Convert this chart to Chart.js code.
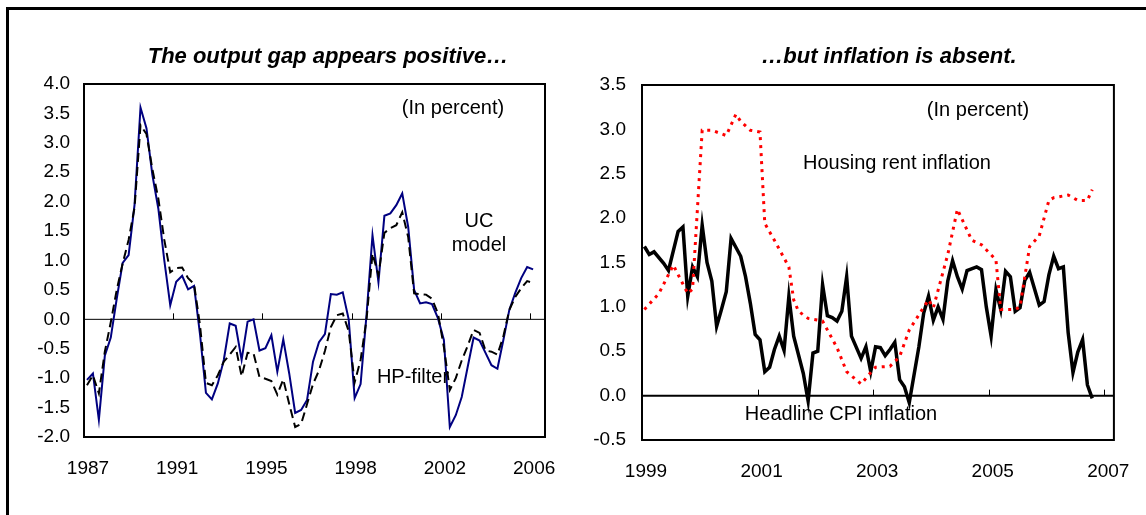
<!DOCTYPE html>
<html>
<head>
<meta charset="utf-8">
<script src="https://cdn.jsdelivr.net/npm/chart.js@4.4.1/dist/chart.umd.min.js"></script>
<style>
  body { margin: 0; background: #fff; }
  #wrap { position: relative; width: 1146px; height: 515px; overflow: hidden; }
  #frame { position: absolute; left: 6px; top: 7px; width: 1300px; height: 700px; border-top: 3px solid #000; border-left: 3px solid #000; }
  canvas { position: absolute; top: 0; }
</style>
</head>
<body>
<div id="wrap">
  <div id="frame"></div>
  <canvas id="gapChart" width="573" height="515" style="left:0"></canvas>
  <canvas id="inflChart" width="573" height="515" style="left:573px"></canvas>
</div>
<script>
// left panel: quarterly output gap, 1987Q1 onwards
const gapYears = ['1987', '1991', '1995', '1998', '2002', '2006'];
const ucModel = [
  -1.03, -0.92, -1.71, -0.62, -0.31, 0.35, 0.96, 1.09, 1.95, 3.6,
  3.25, 2.45, 1.88, 1.0, 0.24, 0.64, 0.74, 0.51, 0.57, -0.25,
  -1.25, -1.36, -1.09, -0.69, -0.07, -0.11, -0.69, -0.04, 0.0, -0.53,
  -0.49, -0.27, -0.89, -0.34, -0.92, -1.59, -1.54, -1.37, -0.72, -0.39,
  -0.25, 0.43, 0.42, 0.46, 0.0, -1.34, -1.10, 0.08, 1.43, 0.63,
  1.76, 1.80, 1.94, 2.14, 1.57, 0.5, 0.27, 0.29, 0.26, 0.02,
  -0.35, -1.83, -1.63, -1.32, -0.81, -0.31, -0.36, -0.57, -0.78, -0.84,
  -0.35, 0.16, 0.45, 0.70, 0.89, 0.85
];
const hpFilter = [
  -1.12, -0.95, -1.26, -0.55, -0.05, 0.5, 0.95, 1.35, 1.9, 3.3,
  3.15, 2.55, 2.05, 1.35, 0.8, 0.87, 0.88, 0.7, 0.6, -0.1,
  -1.08, -1.12, -0.95, -0.72, -0.6, -0.47, -0.97, -0.57, -0.58, -0.98,
  -1.01, -1.05, -1.28, -1.02, -1.44, -1.83, -1.78, -1.44, -1.1, -0.87,
  -0.54, -0.13, 0.07, 0.10, -0.2, -1.07, -0.69, 0.0, 1.12, 0.75,
  1.47, 1.55, 1.6, 1.82, 1.4, 0.44, 0.43, 0.42, 0.35, 0.1,
  -0.47, -1.2, -1.0, -0.7, -0.45, -0.18, -0.23, -0.53, -0.55, -0.6,
  -0.29, 0.16, 0.38, 0.53, 0.65, 0.62
];

// right panel: monthly, month 0 = Jan 1999
const inflYears = ['1999', '2001', '2003', '2005', '2007'];
const cpiMonth = [
  0, 1, 2, 4, 5, 7, 8, 9, 10, 11, 12, 13, 14, 15, 16, 17, 18, 20, 21, 22,
  23, 24, 25, 26, 27, 28, 29, 30, 31, 33, 34, 35, 36, 37, 38, 39, 40, 41, 42, 43,
  45, 46, 47, 48, 49, 50, 51, 52, 53, 54, 55, 57, 58, 59, 60, 61, 62, 63, 64, 65,
  66, 67, 69, 70, 71, 72, 73, 74, 75, 76, 77, 78, 79, 80, 82, 83, 84, 85, 86, 87,
  88, 89, 90, 91, 92, 93
];
const cpiInflation = [
  1.68, 1.59, 1.62, 1.49, 1.41, 1.85, 1.90, 1.12, 1.45, 1.34, 1.92, 1.50, 1.29, 0.78, 0.97, 1.17, 1.77, 1.57, 1.34, 1.04,
  0.69, 0.63, 0.27, 0.32, 0.52, 0.67, 0.51, 1.12, 0.67, 0.25, -0.06, 0.48, 0.50, 1.25, 0.90, 0.88, 0.84, 0.95, 1.34, 0.67,
  0.42, 0.55, 0.27, 0.55, 0.54, 0.45, 0.52, 0.60, 0.18, 0.10, -0.08, 0.55, 0.93, 1.12, 0.85, 1.00, 0.86, 1.29, 1.52, 1.34,
  1.20, 1.41, 1.45, 1.42, 1.00, 0.67, 1.19, 0.97, 1.40, 1.34, 0.95, 0.99, 1.30, 1.39, 1.02, 1.06, 1.36, 1.57, 1.43, 1.45,
  0.71, 0.26, 0.49, 0.63, 0.12, -0.03
];
const rentMonth = [
  0, 3, 6, 9, 10, 12, 14, 17, 19, 20, 22, 24, 25, 27, 30, 31, 32, 34, 37, 40,
  42, 45, 47, 48, 51, 53, 55, 59, 60, 63, 65, 68, 70, 73, 74, 77, 78, 80, 82, 84,
  85, 88, 90, 92, 93
];
const rentInflation = [
  0.97, 1.15, 1.47, 1.15, 1.2, 2.99, 2.99, 2.93, 3.17, 3.09, 2.99, 2.97, 1.94, 1.75, 1.45, 1.08, 0.95, 0.87, 0.84, 0.54,
  0.27, 0.13, 0.26, 0.32, 0.33, 0.44, 0.74, 1.08, 0.99, 1.59, 2.10, 1.75, 1.70, 1.53, 0.97, 0.97, 1.0, 1.68, 1.80, 2.20,
  2.23, 2.26, 2.20, 2.20, 2.32
];

Chart.defaults.font.family = '"Liberation Sans", Arial, sans-serif';
Chart.defaults.color = '#000';

const decor = {
  id: 'decor',
  beforeDatasetsDraw(chart, args, o) {
    const { ctx, chartArea: a, scales: { x, y } } = chart;
    const y0 = y.getPixelForValue(0);
    ctx.save();
    ctx.strokeStyle = '#000';
    ctx.lineWidth = o.zeroWidth;
    ctx.beginPath();
    ctx.moveTo(a.left, y0);
    ctx.lineTo(a.right, y0);
    ctx.stroke();
    ctx.lineWidth = 1;
    x.ticks.forEach((t) => {
      const px = Math.round(x.getPixelForValue(t.value)) + 0.5;
      ctx.beginPath();
      ctx.moveTo(px, y0);
      ctx.lineTo(px, y0 - o.tickLen);
      ctx.stroke();
    });
    ctx.restore();
  },
  afterDatasetsDraw(chart, args, o) {
    const { ctx, chartArea: a } = chart;
    ctx.save();
    ctx.strokeStyle = '#000';
    ctx.lineWidth = 2;
    ctx.strokeRect(a.left, a.top, a.right - a.left, a.bottom - a.top);
    ctx.fillStyle = '#000';
    ctx.textAlign = 'center';
    ctx.textBaseline = 'middle';
    o.texts.forEach((t) => {
      ctx.font = t.font;
      ctx.fillText(t.text, t.x, t.y);
    });
    ctx.restore();
  },
};

const makeOptions = (cfg) => ({
  responsive: false,
  animation: false,
  layout: { padding: { left: 0, top: cfg.top, right: cfg.right, bottom: 0 } },
  elements: { point: { radius: 0 }, line: { tension: 0 } },
  scales: {
    x: {
      type: 'linear',
      min: cfg.xMin,
      max: cfg.xMax,
      grid: { display: false, drawTicks: false },
      border: { display: false },
      afterBuildTicks: (scale) => {
        scale.ticks = cfg.tickPos.map((v) => ({ value: v }));
      },
      afterFit: (scale) => { scale.height = cfg.xHeight; },
      ticks: {
        padding: 20,
        labelOffset: 4,
        maxRotation: 0,
        autoSkip: false,
        font: { size: 19 },
        callback: (value) => cfg.tickLabels[cfg.tickPos.indexOf(value)],
      },
    },
    y: {
      min: cfg.yMin,
      max: cfg.yMax,
      grid: { display: false, drawTicks: false },
      border: { display: false },
      afterFit: (scale) => { scale.width = cfg.yWidth; },
      ticks: {
        stepSize: 0.5,
        padding: cfg.yPad,
        font: { size: 19 },
        callback: (value) => value.toFixed(1),
      },
    },
  },
  plugins: {
    legend: { display: false },
    tooltip: { enabled: false },
    decor: { zeroWidth: cfg.zeroWidth, tickLen: 6, texts: cfg.texts },
  },
});

const titleFont = 'italic bold 22px "Liberation Sans", Arial, sans-serif';
const noteFont = '20px "Liberation Sans", Arial, sans-serif';

new Chart(document.getElementById('gapChart'), {
  type: 'line',
  data: {
    datasets: [
      {
        label: 'HP-filter',
        data: hpFilter.map((v, i) => ({ x: i, y: v })),
        borderColor: '#000',
        borderWidth: 2,
        borderDash: [9, 5],
      },
      {
        label: 'UC model',
        data: ucModel.map((v, i) => ({ x: i, y: v })),
        borderColor: '#000080',
        borderWidth: 2,
      },
    ],
  },
  options: makeOptions({
    top: 84, right: 28, xHeight: 78, yWidth: 84, yPad: 14,
    xMin: -0.5, xMax: 77,
    tickPos: [-0.5, 14.5, 29.5, 44.5, 59.5, 74.5],
    tickLabels: gapYears,
    yMin: -2, yMax: 4, zeroWidth: 1,
    texts: [
      { text: 'The output gap appears positive\u2026', x: 328, y: 57, font: titleFont },
      { text: '(In percent)', x: 453, y: 108, font: noteFont },
      { text: 'UC', x: 479, y: 221, font: noteFont },
      { text: 'model', x: 479, y: 245, font: noteFont },
      { text: 'HP-filter', x: 413, y: 377, font: noteFont },
    ],
  }),
  plugins: [decor],
});

new Chart(document.getElementById('inflChart'), {
  type: 'line',
  data: {
    datasets: [
      {
        label: 'Housing rent inflation',
        data: rentMonth.map((m, i) => ({ x: m, y: rentInflation[i] })),
        borderColor: '#ff0000',
        borderWidth: 3,
        borderDash: [3, 5],
      },
      {
        label: 'Headline CPI inflation',
        data: cpiMonth.map((m, i) => ({ x: m, y: cpiInflation[i] })),
        borderColor: '#000',
        borderWidth: 3.5,
      },
    ],
  },
  options: makeOptions({
    top: 85, right: 29, xHeight: 75, yWidth: 69, yPad: 16,
    xMin: -0.5, xMax: 97.5,
    tickPos: [-0.5, 23.5, 47.5, 71.5, 95.5],
    tickLabels: inflYears,
    yMin: -0.5, yMax: 3.5, zeroWidth: 2,
    texts: [
      { text: '\u2026but inflation is absent.', x: 316, y: 57, font: titleFont },
      { text: '(In percent)', x: 405, y: 110, font: noteFont },
      { text: 'Housing rent inflation', x: 324, y: 163, font: noteFont },
      { text: 'Headline CPI inflation', x: 268, y: 414, font: noteFont },
    ],
  }),
  plugins: [decor],
});
</script>
</body>
</html>
